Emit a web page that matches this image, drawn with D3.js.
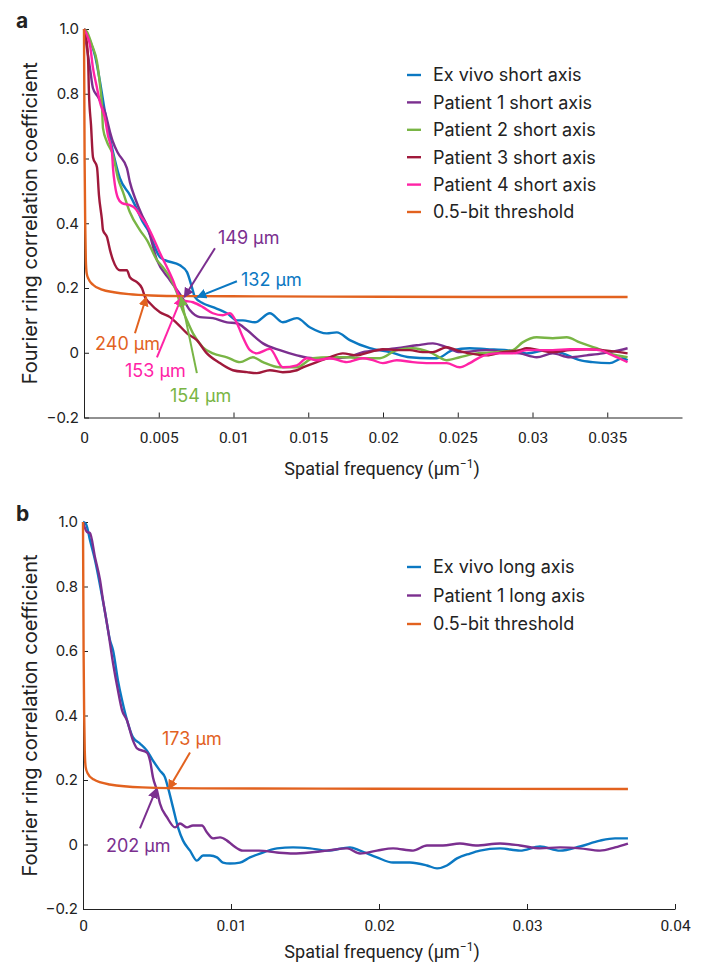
<!DOCTYPE html>
<html lang="en">
<head>
<meta charset="utf-8">
<title>FRC curves</title>
<script src="https://cdn.jsdelivr.net/npm/d3@7"></script>
<style>
  body { margin: 0; background: #fff; }
  svg text { font-family: Inter, "Noto Sans", sans-serif; fill: #222; }
  .tick text { font-size: 15px; }
  .xaxis .tick text { font-family: Roboto, sans-serif; font-size: 15.5px; }
  .axis path, .axis line { stroke: #222; stroke-width: 1; }
</style>
</head>
<body>
<script>
// ---- data, panel a (spatial frequency in 1/um, FRC value) ----
var exVivoShort = [[0,1.0],[0.0004,0.964],[0.00074,0.917],[0.00107,0.837],[0.0014,0.744],[0.00194,0.62],[0.0024,0.539],[0.00307,0.487],[0.00341,0.456],[0.00394,0.403],[0.00428,0.379],[0.00508,0.295],[0.00541,0.286],[0.00642,0.27],[0.00689,0.249],[0.00722,0.202],[0.00742,0.172],[0.00795,0.153],[0.00862,0.141],[0.00956,0.122],[0.01023,0.1],[0.01063,0.1],[0.01143,0.094],[0.01243,0.122],[0.0133,0.094],[0.01424,0.107],[0.0151,0.079],[0.01624,0.06],[0.01691,0.063],[0.01778,0.039],[0.01912,0.014],[0.02045,0.002],[0.02179,-0.014],[0.02313,-0.017],[0.0236,-0.017],[0.02467,0.008],[0.0258,0.014],[0.02694,0.011],[0.02828,0.008],[0.02961,-0.002],[0.03095,0.008],[0.03202,-0.002],[0.03316,-0.023],[0.03402,-0.029],[0.03516,-0.032],[0.03603,-0.017],[0.03636,-0.023]];
var patient1Short = [[0,1.0],[0.0004,0.879],[0.0006,0.817],[0.00094,0.79],[0.0014,0.744],[0.00174,0.682],[0.00194,0.651],[0.00227,0.617],[0.00287,0.57],[0.00307,0.527],[0.00341,0.478],[0.00388,0.425],[0.00421,0.394],[0.00488,0.286],[0.00575,0.224],[0.00655,0.172],[0.00709,0.131],[0.00775,0.11],[0.00862,0.107],[0.00956,0.094],[0.01023,0.091],[0.0109,0.07],[0.01197,0.029],[0.0131,0.008],[0.01424,-0.008],[0.01531,-0.017],[0.01644,-0.017],[0.01758,-0.014],[0.01865,0.002],[0.01979,0.008],[0.02092,0.014],[0.02226,0.023],[0.02333,0.029],[0.02426,0.017],[0.02513,0.002],[0.02694,0.008],[0.02828,0.002],[0.02914,-0.002],[0.03028,-0.014],[0.03135,-0.002],[0.03249,-0.014],[0.03362,-0.008],[0.03469,-0.002],[0.03583,0.008],[0.03636,0.014]];
var patient2Short = [[0,1.0],[0.0002,0.991],[0.00053,0.951],[0.00087,0.898],[0.00107,0.827],[0.0012,0.765],[0.00127,0.694],[0.00154,0.651],[0.00194,0.611],[0.00227,0.539],[0.00261,0.496],[0.00307,0.434],[0.00374,0.379],[0.00421,0.348],[0.00488,0.286],[0.00528,0.264],[0.00575,0.233],[0.00622,0.184],[0.00642,0.153],[0.00689,0.1],[0.00729,0.06],[0.00795,0.017],[0.00862,-0.002],[0.00956,-0.014],[0.01043,-0.029],[0.0113,-0.014],[0.01197,-0.029],[0.0131,-0.045],[0.01424,-0.045],[0.01531,-0.017],[0.01644,-0.014],[0.01758,-0.014],[0.01865,-0.017],[0.01979,-0.017],[0.02092,0.008],[0.02199,0.014],[0.02313,0.002],[0.02426,-0.023],[0.02513,-0.014],[0.02627,-0.002],[0.02761,0.002],[0.02868,0.008],[0.02934,0.032],[0.03028,0.048],[0.03135,0.045],[0.03229,0.048],[0.03316,0.032],[0.03429,0.014],[0.03516,-0.002],[0.03636,-0.014]];
var patient3Short = [[0,1.0],[0.00013,0.978],[0.00027,0.91],[0.00033,0.805],[0.00047,0.703],[0.0006,0.604],[0.00087,0.573],[0.001,0.487],[0.0012,0.411],[0.00127,0.379],[0.00154,0.357],[0.00174,0.317],[0.00194,0.286],[0.0024,0.255],[0.00287,0.255],[0.00307,0.233],[0.00354,0.218],[0.00388,0.199],[0.00408,0.172],[0.00441,0.153],[0.00508,0.125],[0.00575,0.11],[0.00622,0.091],[0.00689,0.06],[0.00755,0.039],[0.00822,-0.002],[0.00909,-0.032],[0.00996,-0.054],[0.0109,-0.06],[0.01156,-0.063],[0.01243,-0.054],[0.0133,-0.06],[0.01424,-0.054],[0.01464,-0.045],[0.01557,-0.029],[0.01644,-0.014],[0.01731,-0.002],[0.01825,-0.008],[0.01912,0.002],[0.01999,0.011],[0.02092,0.008],[0.02179,0.008],[0.02266,0.002],[0.02333,0.002],[0.02426,0.017],[0.02493,0.008],[0.0258,-0.002],[0.02694,-0.008],[0.02801,0.002],[0.02914,0.008],[0.02961,0.014],[0.03048,0.008],[0.03135,0.002],[0.03249,0.008],[0.03362,0.011],[0.03469,0.008],[0.03583,0.002],[0.03636,-0.002]];
var patient4Short = [[0,1.0],[0.0002,0.981],[0.0004,0.951],[0.0006,0.88],[0.00087,0.818],[0.00107,0.774],[0.0014,0.725],[0.0016,0.672],[0.00187,0.62],[0.00194,0.57],[0.00207,0.518],[0.00227,0.478],[0.00254,0.462],[0.00307,0.456],[0.00341,0.447],[0.00374,0.425],[0.00421,0.394],[0.00461,0.357],[0.00508,0.308],[0.00555,0.264],[0.00595,0.224],[0.00628,0.184],[0.00662,0.162],[0.00729,0.156],[0.00795,0.141],[0.00862,0.122],[0.00929,0.116],[0.00976,0.122],[0.01023,0.091],[0.01063,0.048],[0.0111,0.008],[0.01156,-0.002],[0.01243,0.012],[0.0133,-0.045],[0.01424,-0.039],[0.01491,-0.017],[0.01557,-0.023],[0.01644,-0.017],[0.01758,-0.029],[0.01865,-0.017],[0.01932,-0.023],[0.01999,-0.032],[0.02092,-0.023],[0.02199,-0.029],[0.02313,-0.032],[0.02426,-0.032],[0.02513,-0.045],[0.0258,-0.032],[0.02647,-0.014],[0.02761,-0.002],[0.02868,-0.002],[0.02961,0.008],[0.03135,0.008],[0.03249,0.011],[0.03362,0.011],[0.03449,0.008],[0.03536,-0.008],[0.03636,-0.029]];
var thresholdA = [[0,1.0],[0.00004,0.6],[0.00008,0.4],[0.00012,0.29],[0.00018,0.245],[0.0003,0.228],[0.0006,0.21],[0.0012,0.195],[0.002,0.187],[0.003,0.181],[0.0045,0.177],[0.007,0.175],[0.012,0.174],[0.02,0.173],[0.03636,0.172]];

// ---- data, panel b ----
var exVivoLong = [[0,1.0],[0.0002,0.994],[0.00047,0.944],[0.00081,0.882],[0.00115,0.804],[0.00149,0.72],[0.00182,0.634],[0.00203,0.602],[0.00236,0.509],[0.00264,0.447],[0.00304,0.375],[0.00338,0.332],[0.00385,0.313],[0.00432,0.291],[0.00473,0.26],[0.0052,0.229],[0.00554,0.208],[0.00574,0.177],[0.00608,0.115],[0.00642,0.053],[0.00676,0.012],[0.00723,-0.019],[0.0077,-0.05],[0.00811,-0.034],[0.00858,-0.034],[0.00905,-0.04],[0.00946,-0.056],[0.00993,-0.059],[0.01061,-0.056],[0.01128,-0.04],[0.01196,-0.028],[0.01311,-0.012],[0.01419,-0.009],[0.01534,-0.012],[0.01649,-0.019],[0.01804,-0.009],[0.01872,-0.019],[0.01986,-0.04],[0.02095,-0.056],[0.02209,-0.056],[0.02324,-0.065],[0.02392,-0.074],[0.02459,-0.065],[0.02527,-0.043],[0.02615,-0.028],[0.02682,-0.019],[0.02818,-0.012],[0.02953,-0.019],[0.03088,-0.006],[0.03223,-0.019],[0.03358,-0.006],[0.03493,0.012],[0.03595,0.019],[0.03682,0.019]];
var patient1Long = [[0,1.0],[0.00027,0.969],[0.00047,0.966],[0.00081,0.891],[0.00115,0.82],[0.00135,0.758],[0.00169,0.665],[0.00203,0.562],[0.00236,0.478],[0.00264,0.416],[0.00297,0.385],[0.00338,0.322],[0.00365,0.298],[0.00432,0.285],[0.00453,0.26],[0.00473,0.208],[0.005,0.167],[0.0052,0.127],[0.00568,0.084],[0.00622,0.053],[0.00655,0.065],[0.00703,0.053],[0.00743,0.059],[0.00804,0.059],[0.00838,0.037],[0.00878,0.019],[0.00926,0.022],[0.00973,0.012],[0.01014,-0.003],[0.01081,-0.019],[0.0119,-0.019],[0.01311,-0.025],[0.01419,-0.028],[0.01534,-0.025],[0.01649,-0.019],[0.01784,-0.012],[0.01872,-0.028],[0.01986,-0.019],[0.02095,-0.012],[0.0223,-0.019],[0.02324,-0.003],[0.02432,-0.003],[0.02547,0.003],[0.02655,-0.003],[0.02818,0.003],[0.02953,-0.003],[0.03088,-0.012],[0.03223,-0.009],[0.03358,-0.012],[0.03493,-0.019],[0.03595,-0.009],[0.03682,0.003]];
var thresholdB = [[0,1.0],[0.00004,0.6],[0.00008,0.4],[0.00012,0.29],[0.00018,0.24],[0.0003,0.222],[0.0007,0.202],[0.0018,0.186],[0.004,0.177],[0.008,0.174],[0.02,0.173],[0.03682,0.172]];

var legendA = ["Ex vivo short axis", "Patient 1 short axis", "Patient 2 short axis", "Patient 3 short axis", "Patient 4 short axis", "0.5-bit threshold"];
var legendB = ["Ex vivo long axis", "Patient 1 long axis", "0.5-bit threshold"];
var colors = { blue: "#0b78c2", purple: "#7b2f8f", green: "#79b545", red: "#a0193b", pink: "#ff23a6", orange: "#e2621f" };

var ticksXA = [0, 0.005, 0.01, 0.015, 0.02, 0.025, 0.03, 0.035];
var ticksXB = [0, 0.01, 0.02, 0.03, 0.04];
var ticksY = [-0.2, 0, 0.2, 0.4, 0.6, 0.8, 1.0];

// annotations: label, colour, arrow tail [f, v], tip frequency (1/um), label anchor [f, v]
var notesA = [
  { text: "149 μm", color: "purple", tail: [0.00876, 0.323], tip: 1 / 149, label: [0.00896, 0.335] },
  { text: "132 μm", color: "blue", tail: [0.01023, 0.221], tip: 1 / 132, label: [0.0105, 0.207] },
  { text: "240 μm", color: "orange", tail: [0.00341, 0.06], tip: 1 / 240, label: [0.00074, 0.008] },
  { text: "153 μm", color: "pink", tail: [0.00488, -0.014], tip: 1 / 153, label: [0.00274, -0.076] },
  { text: "154 μm", color: "green", tail: [0.00755, -0.063], tip: 1 / 154, label: [0.00575, -0.153] }
];
var notesB = [
  { text: "173 μm", color: "orange", tail: [0.00723, 0.285], tip: 1 / 173, label: [0.00534, 0.31] },
  { text: "202 μm", color: "purple", tail: [0.00385, 0.05], tip: 1 / 202, label: [0.00155, -0.022] }
];
var tipLevel = 0.172;

var svg = d3.select("body").append("svg")
    .attr("width", 707)
    .attr("height", 963);

//arrowhead markers, one per colour
var defs = svg.append("defs");
Object.keys(colors).forEach(function(k) {
    defs.append("marker")
        .attr("id", "head-" + k)
        .attr("viewBox", "0 0 10 10")
        .attr("refX", 9).attr("refY", 5)
        .attr("markerWidth", 5).attr("markerHeight", 5)
        .attr("markerUnits", "strokeWidth")
        .attr("orient", "auto")
      .append("path")
        .attr("d", "M0,0 L10,5 L0,10 z")
        .attr("fill", colors[k]);
});

function drawPanel(opt) {
    var x = d3.scaleLinear().domain([0, 0.04]).range(opt.xr);
    var y = d3.scaleLinear().domain([-0.2, 1.0]).range(opt.yr);
    var g = svg.append("g");

    var xAxis = d3.axisBottom(x).tickValues(opt.xticks)
        .tickFormat(function(d) { return d === 0 ? "0" : String(+d.toFixed(3)); })
        .tickSizeInner(-5).tickSizeOuter(0).tickPadding(opt.xpad);
    g.append("g").attr("class", "axis xaxis")
        .attr("transform", "translate(0," + opt.yr[0] + ")")
        .call(xAxis);

    var yAxis = d3.axisLeft(y).tickValues(ticksY)
        .tickFormat(function(d) { return d === 0 ? "0" : (d < 0 ? "\u2212" : "") + Math.abs(d).toFixed(1); })
        .tickSizeInner(-5).tickSizeOuter(0).tickPadding(5);
    g.append("g").attr("class", "axis yaxis")
        .attr("transform", "translate(" + opt.xr[0] + ",0)")
        .call(yAxis);

    g.append("text")
        .attr("transform", "translate(37," + ((opt.yr[0] + opt.yr[1]) / 2) + ") rotate(-90)")
        .attr("text-anchor", "middle")
        .style("font-size", "20px")
        .text("Fourier ring correlation coefficient");

    var xt = g.append("text")
        .attr("x", 382).attr("y", opt.yr[0] + opt.titleGap)
        .attr("text-anchor", "middle")
        .style("font-family", "Roboto, sans-serif")
        .style("font-size", "18px")
        .text("Spatial frequency (μm");
    xt.append("tspan").attr("dy", -7).style("font-size", "12px").text("\u22121");
    xt.append("tspan").attr("dy", 7).text(")");

    g.append("text")
        .attr("x", 16).attr("y", opt.yr[1] - 1)
        .style("font-size", "21px").style("font-weight", "bold")
        .text(opt.letter);

    var line = d3.line()
        .x(function(d) { return x(d[0]); })
        .y(function(d) { return y(d[1]); })
        .curve(d3.curveMonotoneX);

    opt.series.forEach(function(s) {
        g.append("path")
            .datum(s.data)
            .attr("fill", "none")
            .attr("stroke", colors[s.color])
            .attr("stroke-width", 2.4)
            .attr("stroke-linejoin", "round")
            .attr("d", line);
    });

    //legend
    opt.series.forEach(function(s, i) {
        var ly = opt.legendY + i * opt.legendStep;
        g.append("line")
            .attr("x1", 407).attr("x2", 421)
            .attr("y1", ly).attr("y2", ly)
            .attr("stroke", colors[s.color]).attr("stroke-width", 2.4);
        g.append("text")
            .attr("x", 433).attr("y", ly)
            .attr("dy", "0.36em")
            .style("font-size", "18px")
            .text(opt.legend[i]);
    });

    //arrows and labels
    opt.notes.forEach(function(n) {
        g.append("line")
            .attr("x1", x(n.tail[0])).attr("y1", y(n.tail[1]))
            .attr("x2", x(n.tip)).attr("y2", y(tipLevel))
            .attr("stroke", colors[n.color])
            .attr("stroke-width", 2)
            .attr("marker-end", "url(#head-" + n.color + ")");
        g.append("text")
            .attr("x", x(n.label[0])).attr("y", y(n.label[1]))
            .style("font-size", "18px")
            .style("fill", colors[n.color])
            .text(n.text);
    });
}

drawPanel({
    letter: "a",
    xr: [84, 682], yr: [417.5, 29],
    xticks: ticksXA, xpad: 14, titleGap: 57,
    series: [
        { data: exVivoShort, color: "blue" },
        { data: patient1Short, color: "purple" },
        { data: patient2Short, color: "green" },
        { data: patient3Short, color: "red" },
        { data: patient4Short, color: "pink" },
        { data: thresholdA, color: "orange" }
    ],
    legend: legendA, legendY: 75, legendStep: 27.4,
    notes: notesA
});

drawPanel({
    letter: "b",
    xr: [83, 675], yr: [909, 522],
    xticks: ticksXB, xpad: 11, titleGap: 49,
    series: [
        { data: exVivoLong, color: "blue" },
        { data: patient1Long, color: "purple" },
        { data: thresholdB, color: "orange" }
    ],
    legend: legendB, legendY: 567, legendStep: 28.5,
    notes: notesB
});
</script>
</body>
</html>
